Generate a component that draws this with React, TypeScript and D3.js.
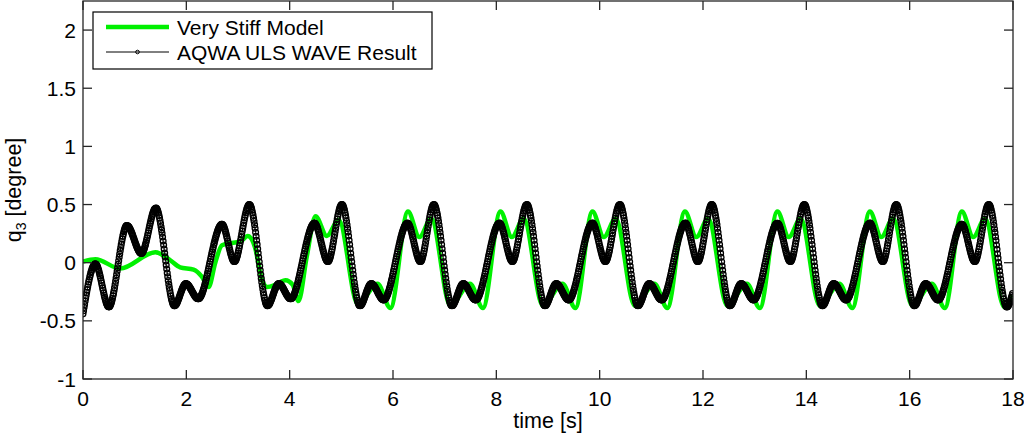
import { useLayoutEffect, useMemo, useRef, useState } from "react";
import * as d3 from "d3";

// AQWA ULS WAVE result: extrema (time s, q3 degree)
const aqwaTime = [
  0, 0.24, 0.5, 0.85, 1.13, 1.41,
  1.77, 1.99, 2.23, 2.69, 2.93, 3.22,
  3.57, 3.79, 4.02, 4.48, 4.74, 5.01,
  5.36, 5.58, 5.82, 6.28, 6.53, 6.79,
  7.14, 7.36, 7.6, 8.06, 8.31, 8.59,
  8.94, 9.16, 9.4, 9.86, 10.11, 10.39,
  10.74, 10.96, 11.2, 11.66, 11.9, 12.17,
  12.52, 12.74, 12.98, 13.44, 13.69, 13.96,
  14.31, 14.53, 14.77, 15.23, 15.48, 15.74,
  16.09, 16.31, 16.55, 17.01, 17.26, 17.53,
  17.88, 18,
];
const aqwaQ3 = [
  -0.44, -0.01, -0.38, 0.32, 0.08, 0.47,
  -0.37, -0.18, -0.31, 0.33, 0.01, 0.5,
  -0.37, -0.18, -0.31, 0.34, 0.01, 0.5,
  -0.37, -0.18, -0.32, 0.34, 0.01, 0.5,
  -0.37, -0.18, -0.32, 0.34, 0.01, 0.5,
  -0.37, -0.18, -0.32, 0.34, 0.01, 0.5,
  -0.37, -0.18, -0.32, 0.34, 0.01, 0.5,
  -0.37, -0.18, -0.32, 0.34, 0.01, 0.5,
  -0.37, -0.18, -0.32, 0.34, 0.01, 0.5,
  -0.37, -0.18, -0.32, 0.33, 0.01, 0.5,
  -0.38, -0.25,
];

// Very stiff model
const stiffTime = [
  0, 0.24, 0.72, 1.4, 1.69, 1.88, 2.14, 2.3, 2.43, 2.56, 2.69, 2.88, 3.04, 3.19,
  3.33, 3.46, 3.57, 3.72, 3.92, 4.06, 4.17, 4.33,
  4.5, 4.72, 4.95, 5.32, 5.7, 5.95,
  6.29, 6.51, 6.74, 7.11, 7.49, 7.74,
  8.08, 8.3, 8.53, 8.9, 9.28, 9.53,
  9.86, 10.08, 10.31, 10.68, 11.06, 11.31,
  11.65, 11.87, 12.1, 12.47, 12.85, 13.1,
  13.44, 13.66, 13.89, 14.26, 14.64, 14.89,
  15.23, 15.45, 15.68, 16.05, 16.43, 16.68,
  17.01, 17.23, 17.46, 17.83, 18,
];
const stiffQ3 = [
  0.01, 0.03, -0.05, 0.09, 0.02, -0.04, -0.06, -0.12, -0.21, 0.0, 0.15, 0.17, 0.18, 0.23,
  0.13, -0.14, -0.21, -0.19, -0.15, -0.19, -0.33, 0.05,
  0.4, 0.23, 0.37, -0.36, -0.18, -0.39,
  0.44, 0.22, 0.38, -0.37, -0.18, -0.39,
  0.44, 0.22, 0.38, -0.37, -0.18, -0.39,
  0.44, 0.22, 0.38, -0.37, -0.18, -0.39,
  0.44, 0.22, 0.38, -0.37, -0.18, -0.39,
  0.44, 0.22, 0.38, -0.37, -0.18, -0.39,
  0.44, 0.22, 0.38, -0.37, -0.18, -0.39,
  0.44, 0.22, 0.38, -0.38, -0.28,
];

const xTicks = [0, 2, 4, 6, 8, 10, 12, 14, 16, 18];
const yTicks = [-1, -0.5, 0, 0.5, 1, 1.5, 2];
const legendLabels = ["Very Stiff Model", "AQWA ULS WAVE Result"];

const W = 1024;
const H = 435;
const box = { left: 83, right: 1013, top: 1, bottom: 379 };
const font = "'Liberation Sans', Arial, Helvetica, sans-serif";
const axisColor = "#262626";
const green = "#00f000";

type Pt = { t: number; q: number };

export default function App() {
  const x = d3.scaleLinear().domain([0, 18]).range([box.left, box.right]);
  const y = d3.scaleLinear().domain([-1, 2.25]).range([box.bottom, box.top]);

  const aqwa: Pt[] = useMemo(() => aqwaTime.map((t, i) => ({ t, q: aqwaQ3[i] })), []);
  const stiff: Pt[] = useMemo(() => stiffTime.map((t, i) => ({ t, q: stiffQ3[i] })), []);

  const line = d3
    .line<Pt>()
    .x((d) => x(d.t))
    .y((d) => y(d.q))
    .curve(d3.curveMonotoneX);

  // markers sit on the AQWA curve at every 0.01 s, like the sampled output
  const aqwaRef = useRef<SVGPathElement>(null);
  const [marks, setMarks] = useState<[number, number][]>([]);
  useLayoutEffect(() => {
    const p = aqwaRef.current;
    if (!p) return;
    const len = p.getTotalLength();
    const step = x(0.01) - x(0);
    const pts: [number, number][] = [];
    let nextX = x(0);
    for (let l = 0; l <= len; l += 0.25) {
      const pt = p.getPointAtLength(l);
      if (pt.x >= nextX - 1e-6) {
        pts.push([pt.x, pt.y]);
        nextX += step;
      }
    }
    setMarks(pts);
  }, []);

  const tick = 9;

  return (
    <svg
      width={W}
      height={H}
      style={{ position: "absolute", left: 0, top: 0, background: "#fff" }}
      fontFamily={font}
    >
      <defs>
        <clipPath id="plot">
          <rect x={box.left} y={box.top} width={box.right - box.left} height={box.bottom - box.top} />
        </clipPath>
      </defs>

      <g clipPath="url(#plot)">
        <path d={line(stiff) ?? undefined} fill="none" stroke={green} strokeWidth={4.5} strokeLinejoin="round" />
        <path ref={aqwaRef} d={line(aqwa) ?? undefined} fill="none" stroke="#000" strokeWidth={1} />
        {marks.map(([mx, my], i) => (
          <circle key={i} cx={mx} cy={my} r={2.9} fill="none" stroke="#000" strokeWidth={1.3} />
        ))}
      </g>

      {/* axes box with inward ticks on all sides */}
      <rect
        x={box.left}
        y={box.top}
        width={box.right - box.left}
        height={box.bottom - box.top}
        fill="none"
        stroke={axisColor}
        strokeWidth={1.3}
      />
      {xTicks.map((t) => (
        <g key={`x${t}`}>
          <line x1={x(t)} x2={x(t)} y1={box.bottom} y2={box.bottom - tick} stroke={axisColor} strokeWidth={1.3} />
          <line x1={x(t)} x2={x(t)} y1={box.top} y2={box.top + tick} stroke={axisColor} strokeWidth={1.3} />
          <text x={x(t)} y={405.5} textAnchor="middle" fontSize={21} fill="#000">
            {t}
          </text>
        </g>
      ))}
      {yTicks.map((v) => (
        <g key={`y${v}`}>
          <line x1={box.left} x2={box.left + tick} y1={y(v)} y2={y(v)} stroke={axisColor} strokeWidth={1.3} />
          <line x1={box.right} x2={box.right - tick} y1={y(v)} y2={y(v)} stroke={axisColor} strokeWidth={1.3} />
          <text x={76} y={y(v)} dy="0.36em" textAnchor="end" fontSize={21} fill="#000">
            {v}
          </text>
        </g>
      ))}

      <text x={(box.left + box.right) / 2} y={428} textAnchor="middle" fontSize={21.5} fill="#000">
        time [s]
      </text>
      <text
        transform={`translate(21, ${(box.top + box.bottom) / 2}) rotate(-90)`}
        textAnchor="middle"
        fontSize={21.5}
        fill="#000"
      >
        q<tspan fontSize={14} dy={5}>3</tspan>
        <tspan dy={-5}> [degree]</tspan>
      </text>

      {/* legend */}
      <g>
        <rect x={93} y={12} width={339} height={57} fill="#fff" stroke="#000" strokeWidth={1.2} />
        <line x1={106} x2={169} y1={27} y2={27} stroke={green} strokeWidth={4.5} />
        <line x1={106} x2={169} y1={52} y2={52} stroke="#000" strokeWidth={1} />
        <circle cx={137.5} cy={52} r={1.8} fill="none" stroke="#000" strokeWidth={1} />
        {legendLabels.map((s, i) => (
          <text key={s} x={177} y={34.5 + i * 25} fontSize={21} fill="#000">
            {s}
          </text>
        ))}
      </g>
    </svg>
  );
}
